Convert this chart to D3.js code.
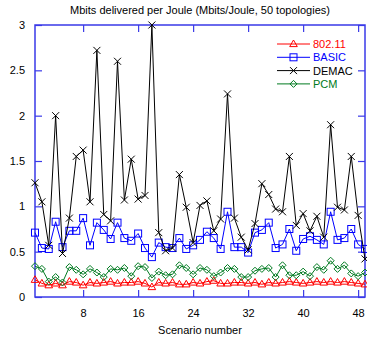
<!DOCTYPE html>
<meta charset="utf-8">
<head>
    <title>Mbits delivered per Joule</title>
    <script src="https://cdn.jsdelivr.net/npm/d3@7/dist/d3.min.js"></script>
    <style>
        body { margin: 0; background: #fff; }
        text { font-family: "Liberation Sans", Arial, sans-serif; }
    </style>
</head>
<body>
<div id="chart"></div>
<script>
    // data
    const scenarios = d3.range(1, 50);
    const yTicks = [0, 0.5, 1, 1.5, 2, 2.5, 3];
    const xTicks = [8, 16, 24, 32, 40, 48];

    const ieee80211 = [0.19,0.15,0.13,0.15,0.13,0.17,0.16,0.13,0.16,0.15,0.16,0.17,0.15,0.16,0.16,0.17,0.15,0.11,0.16,0.15,
        0.16,0.14,0.14,0.16,0.15,0.17,0.18,0.15,0.15,0.16,0.16,0.15,0.16,0.14,0.16,0.15,0.16,0.17,0.16,0.15,
        0.16,0.17,0.16,0.17,0.16,0.17,0.16,0.15,0.14];
    const basic = [0.71,0.54,0.53,0.83,0.55,0.73,0.73,0.87,0.57,0.82,0.74,0.64,0.82,0.65,0.62,0.70,0.54,0.44,0.60,0.55,
        0.54,0.65,0.53,0.57,0.63,0.72,0.65,0.53,0.94,0.55,0.55,0.49,0.71,0.74,0.82,0.54,0.58,0.75,0.51,0.64,
        0.67,0.63,0.58,0.94,0.63,0.65,0.75,0.58,0.53];
    const demac = [1.26,1.05,0.57,2.00,0.48,0.87,1.55,1.62,1.05,2.72,0.91,0.84,2.60,1.07,1.52,1.08,1.12,3.00,0.71,0.51,
        0.54,1.35,0.99,0.60,1.01,1.06,0.73,0.86,2.24,0.87,0.66,0.52,0.81,1.25,1.13,0.97,0.94,1.55,0.79,0.92,
        0.73,0.89,0.66,1.90,0.99,0.96,1.55,0.90,0.42];
    const pcm = [0.34,0.31,0.17,0.22,0.16,0.33,0.30,0.25,0.31,0.27,0.22,0.31,0.30,0.32,0.23,0.34,0.33,0.21,0.28,0.24,
        0.25,0.35,0.32,0.25,0.32,0.30,0.23,0.27,0.32,0.31,0.22,0.22,0.29,0.31,0.32,0.22,0.35,0.24,0.24,0.28,
        0.23,0.33,0.30,0.40,0.31,0.35,0.26,0.23,0.27];

    const series = [
        {name: "802.11", values: ieee80211, color: "#ff0000", mark: "triangle"},
        {name: "BASIC", values: basic, color: "#0000ff", mark: "square"},
        {name: "DEMAC", values: demac, color: "#000000", mark: "cross"},
        {name: "PCM", values: pcm, color: "#007a20", mark: "diamond"}
    ];

    const width = 367, height = 339;
    const margin = {top: 25, right: 2, bottom: 42, left: 35};
    const axisColor = "#3a3ae8";

    const svg = d3.select("#chart").append("svg")
        .attr("width", width)
        .attr("height", height);

    const x = d3.scaleLinear().domain([1, 49]).range([margin.left, width - margin.right]);
    const y = d3.scaleLinear().domain([0, 3]).range([height - margin.bottom, margin.top]);

    // title
    svg.append("text")
        .attr("x", (margin.left + width - margin.right) / 2)
        .attr("y", 14)
        .attr("text-anchor", "middle")
        .attr("font-size", 11)
        .text("Mbits delivered per Joule (Mbits/Joule, 50 topologies)");

    // axes, ticks pointing inward, mirrored
    const tl = 7;
    svg.append("g").attr("transform", `translate(0,${y(0)})`)
        .call(d3.axisBottom(x).tickValues(xTicks).tickSizeInner(-tl).tickSizeOuter(0).tickPadding(12))
        .call(g => g.select(".domain").remove());
    svg.append("g").attr("transform", `translate(0,${y(3)})`)
        .call(d3.axisTop(x).tickValues(xTicks).tickSizeInner(-tl).tickSizeOuter(0).tickFormat(""))
        .call(g => g.select(".domain").remove());
    svg.append("g").attr("transform", `translate(${x(1)},0)`)
        .call(d3.axisLeft(y).tickValues(yTicks).tickSizeInner(-tl).tickSizeOuter(0).tickPadding(10)
            .tickFormat(d => d === 0 ? "0" : String(d)))
        .call(g => g.select(".domain").remove());
    svg.append("g").attr("transform", `translate(${x(49)},0)`)
        .call(d3.axisRight(y).tickValues(yTicks).tickSizeInner(-tl).tickSizeOuter(0).tickFormat(""))
        .call(g => g.select(".domain").remove());

    svg.selectAll(".tick line").attr("stroke", axisColor).attr("stroke-width", 1.2);
    svg.selectAll(".tick text").attr("fill", "#000").attr("font-size", 11)
        .attr("font-family", "Liberation Sans, Arial, sans-serif");

    svg.append("rect")
        .attr("x", x(1)).attr("y", y(3))
        .attr("width", x(49) - x(1)).attr("height", y(0) - y(3))
        .attr("fill", "none").attr("stroke", axisColor).attr("stroke-width", 1.5);

    svg.append("text")
        .attr("x", (margin.left + width - margin.right) / 2)
        .attr("y", 334)
        .attr("text-anchor", "middle")
        .attr("font-size", 11)
        .text("Scenario number");

    function drawMark(g, type, color) {
        if (type === "triangle") {
            g.append("path").attr("d", "M0,-4L3.8,2.6L-3.8,2.6Z").attr("fill", "none").attr("stroke", color);
        } else if (type === "square") {
            g.append("rect").attr("x", -3.5).attr("y", -3.5).attr("width", 7).attr("height", 7)
                .attr("fill", "none").attr("stroke", color);
        } else if (type === "cross") {
            g.append("path").attr("d", "M-3.5,-3.5L3.5,3.5M-3.5,3.5L3.5,-3.5").attr("stroke", color);
        } else {
            g.append("path").attr("d", "M0,-3.5L3.5,0L0,3.5L-3.5,0Z").attr("fill", "none").attr("stroke", color);
        }
    }

    const line = d3.line().x((d, i) => x(scenarios[i])).y(d => y(d));

    series.forEach(s => {
        const g = svg.append("g");
        g.append("path").datum(s.values)
            .attr("d", line)
            .attr("fill", "none")
            .attr("stroke", s.color)
            .attr("stroke-width", 1);
        g.selectAll("g.mk").data(s.values).enter().append("g")
            .attr("class", "mk")
            .attr("transform", (d, i) => `translate(${x(scenarios[i])},${y(d)})`)
            .each(function () { drawMark(d3.select(this), s.mark, s.color); });
    });

    // legend
    const legend = svg.append("g").attr("transform", "translate(277,44)");
    series.forEach((s, i) => {
        const row = legend.append("g").attr("transform", `translate(0,${i * 13.3})`);
        row.append("line").attr("x1", 0).attr("x2", 33).attr("stroke", s.color);
        drawMark(row.append("g").attr("transform", "translate(16.5,0)"), s.mark, s.color);
        row.append("text").attr("x", 36).attr("y", 4).attr("font-size", 11)
            .attr("fill", s.color === "#000000" ? "#000" : s.color)
            .text(s.name);
    });
</script>
</body>
</html>
